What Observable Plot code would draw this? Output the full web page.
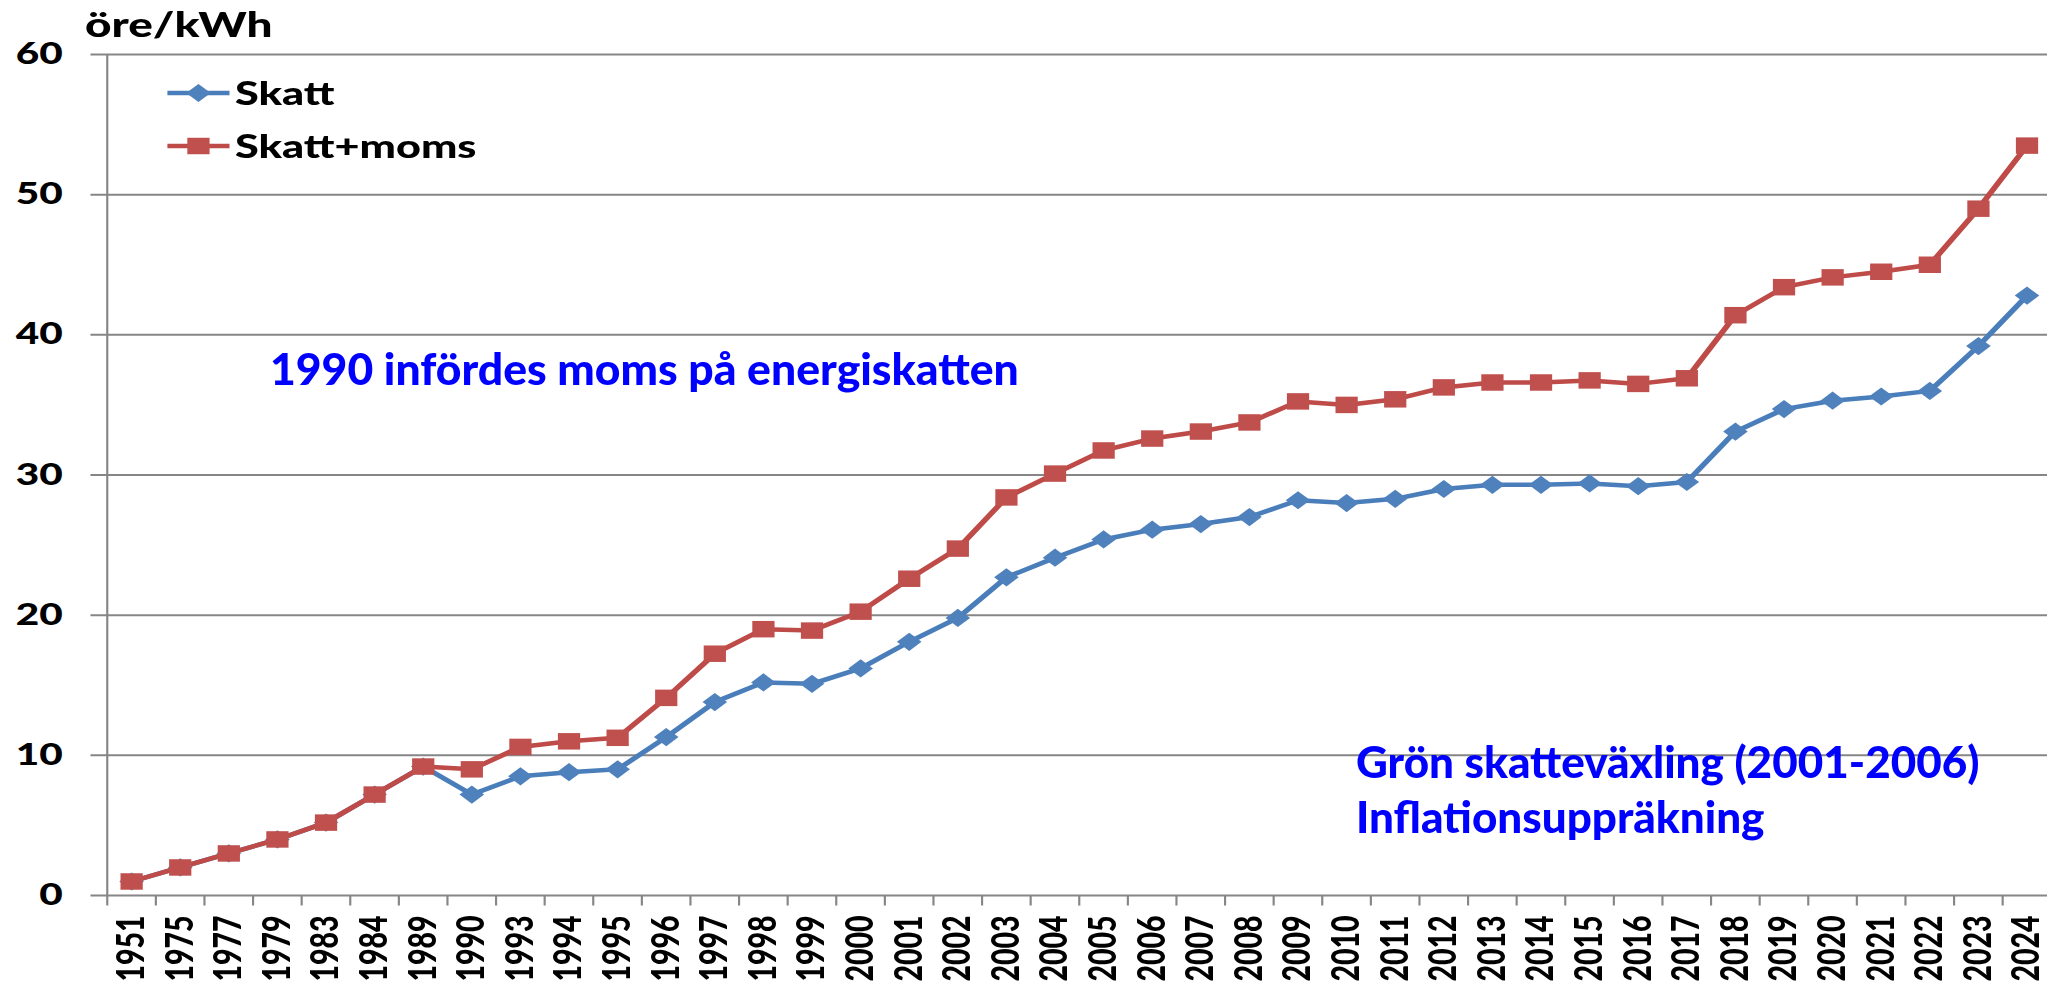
<!DOCTYPE html>
<html><head><meta charset="utf-8">
<script src="https://cdn.jsdelivr.net/npm/d3@7"></script>
<script src="https://cdn.jsdelivr.net/npm/@observablehq/plot@0.6"></script>
<style>
html,body{margin:0;padding:0;background:#fff;overflow:hidden;width:2047px;height:988px;}
#wrap{position:absolute;left:0;top:0;transform:scaleX(1.35);transform-origin:0 0;}
#wrap svg{display:block}
#legend{position:absolute;left:0;top:0;overflow:visible}
#notes{position:absolute;left:0;top:0;overflow:visible}
</style></head><body>
<div id="wrap"></div>
<svg id="notes" width="2047" height="988"></svg>
<script>
// ---- data ----
const years = ["1951","1975","1977","1979","1983","1984","1989","1990","1993","1994","1995",
  "1996","1997","1998","1999","2000","2001","2002","2003","2004","2005","2006","2007","2008",
  "2009","2010","2011","2012","2013","2014","2015","2016","2017","2018","2019","2020","2021",
  "2022","2023","2024"];
const skatt = [1.0,2.0,3.0,4.0,5.2,7.2,9.2,7.2,8.5,8.8,9.0,
  11.3,13.8,15.2,15.1,16.2,18.1,19.8,22.7,24.1,25.4,26.1,26.5,27.0,
  28.2,28.0,28.3,29.0,29.3,29.3,29.4,29.2,29.5,33.1,34.7,35.3,35.6,
  36.0,39.2,42.8];
const skattMoms = [1.0,2.0,3.0,4.0,5.2,7.2,9.2,9.0,10.6,11.0,11.25,
  14.1,17.25,19.0,18.9,20.25,22.6,24.75,28.4,30.1,31.75,32.6,33.1,33.75,
  35.25,35.0,35.4,36.25,36.6,36.6,36.75,36.5,36.9,41.4,43.4,44.1,44.5,
  45.0,49.0,53.5];
const yTicks = [0,10,20,30,40,50,60];
const seriesNames = ["Skatt","Skatt+moms"];
const unitLabel = "öre/kWh";
const note1 = ["1990 infördes moms på energiskatten"];
const note2 = ["Grön skatteväxling (2001-2006)","Inflationsuppräkning"];

// ---- styles / layout ----
const W = 1521, H = 988, ML = 77, MR = 0, MT = 54, MB = 93;
const step = (W - ML - MR) / years.length;
const lineColors = ["#4A7EBB", "#BE4B48"];
const markColors = ["#4F81BD", "#C0504D"];
const symbols = ["diamond2", "square"];
const radii = [8.2, 9.3];
const grid = "#868686";
const font = "Lato, 'Open Sans', sans-serif";
const weight = 900;

const rows = years.map((y, i) => ({year: y, skatt: skatt[i], moms: skattMoms[i]}));

const chart = Plot.plot({
  width: W, height: H, marginLeft: ML, marginRight: MR, marginTop: MT, marginBottom: MB,
  style: {fontFamily: font, background: "white", color: "black", overflow: "visible"},
  x: {type: "point", domain: years, padding: 0.5, align: 0.5},
  y: {domain: [0, 60]},
  marks: [
    Plot.ruleY(yTicks, {stroke: grid, strokeWidth: 2, insetLeft: -10}),
    Plot.ruleX([years[0]], {x: d => d, y1: -0.75, y2: 60, dx: -step / 2, stroke: grid, strokeWidth: 1.6}),
    Plot.ruleX(years.slice(1), {x: d => d, y1: -0.75, y2: 0, dx: -step / 2, stroke: grid, strokeWidth: 1.6}),
    Plot.axisY({ticks: yTicks, tickSize: 0, tickPadding: 31, fontSize: 30, fontWeight: weight, label: null}),
    Plot.axisX({tickSize: 0, tickPadding: 20, tickRotate: -90, fontSize: 28.5, fontWeight: weight, label: null}),
    Plot.line(rows, {x: "year", y: "skatt", stroke: lineColors[0], strokeWidth: 4.5}),
    Plot.dot(rows, {x: "year", y: "skatt", symbol: symbols[0], r: radii[0], fill: markColors[0]}),
    Plot.line(rows, {x: "year", y: "moms", stroke: lineColors[1], strokeWidth: 4.5}),
    Plot.dot(rows, {x: "year", y: "moms", symbol: symbols[1], r: radii[1], fill: markColors[1]})
  ]
});
const wrap = document.getElementById("wrap");
wrap.appendChild(chart);

// legend + unit label (inside the stretched chart area)
const leg = d3.select(wrap).append("svg").attr("id", "legend")
  .attr("width", W).attr("height", H)
  .style("font-family", font).style("font-weight", weight);
leg.append("text").attr("x", 63).attr("y", 37).attr("font-size", 34).attr("fill", "black").text(unitLabel);
const legY = [93, 146];
const symTypes = [d3.symbolDiamond2, d3.symbolSquare];
seriesNames.forEach((name, i) => {
  const g = leg.append("g").attr("transform", `translate(0,${legY[i]})`);
  g.append("line").attr("x1", 124).attr("x2", 170).attr("y1", 0).attr("y2", 0)
    .attr("stroke", lineColors[i]).attr("stroke-width", 4.5);
  g.append("path").attr("transform", "translate(147,0)")
    .attr("d", d3.symbol(symTypes[i], Math.PI * radii[i] * radii[i])())
    .attr("fill", markColors[i]);
  g.append("text").attr("x", 174).attr("dy", "0.36em").attr("font-size", 32).attr("fill", "black").text(name);
});

// annotations (not stretched)
const notes = d3.select("#notes").style("font-family", font).style("font-weight", weight);
notes.append("text").attr("x", 270).attr("y", 385).attr("font-size", 44.5).attr("fill", "#0000FF").text(note1[0]);
note2.forEach((t, i) => {
  notes.append("text").attr("x", 1356).attr("y", 778 + i * 55).attr("font-size", 44).attr("fill", "#0000FF").text(t);
});
</script>
</body></html>
